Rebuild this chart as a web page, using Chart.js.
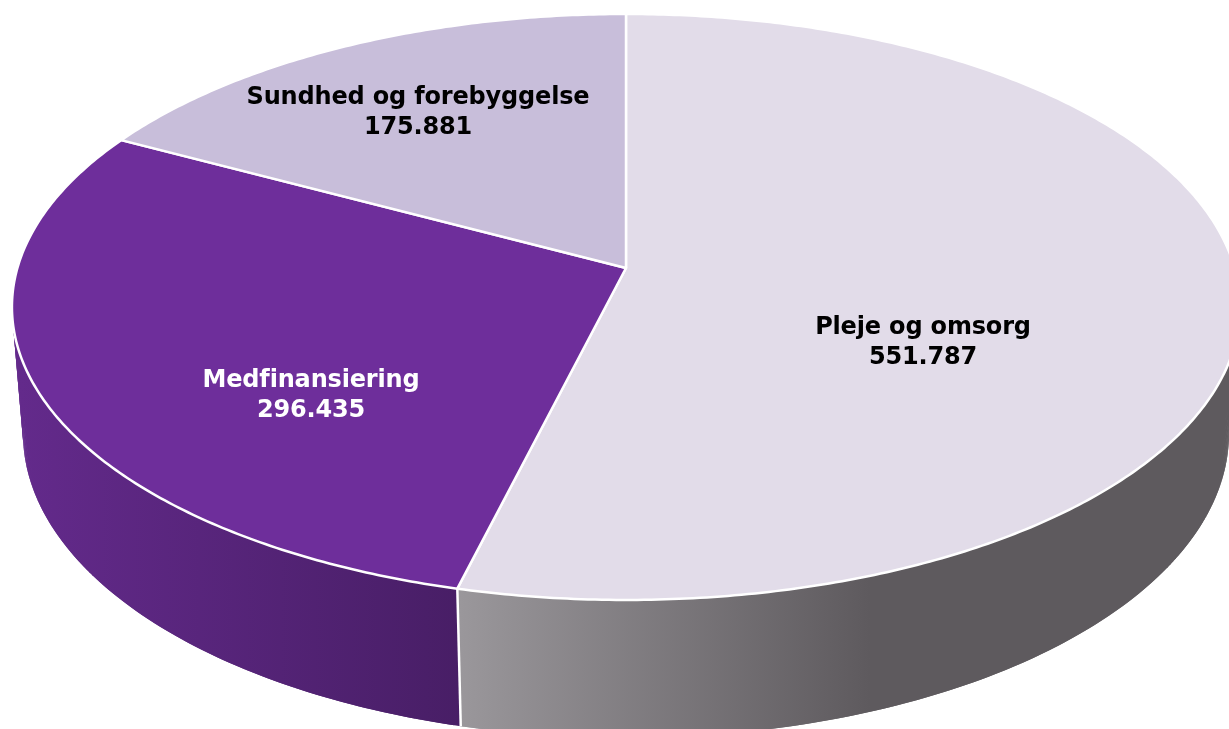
<!DOCTYPE html>
<html>
<head>
<meta charset="utf-8">
<style>
  html, body { margin: 0; padding: 0; background: #fff; }
  #wrap { width: 1229px; height: 729px; position: relative; overflow: hidden; }
</style>
<script src="https://cdn.jsdelivr.net/npm/chart.js@4/dist/chart.umd.min.js"></script>
</head>
<body>
<div id="wrap"><canvas id="pie"></canvas></div>
<script>
const categories = ["Pleje og omsorg", "Medfinansiering", "Sundhed og forebyggelse"];
const values = [551787, 296435, 175881];
const topColors = ["#E2DCE9", "#6E2E9B", "#C8BEDA"];
const labelColors = ["#000000", "#FFFFFF", "#000000"];

// perspective of the tilted disc, fitted to the picture
const view = { cx: 626, cy: 268, a: 608.6, b: 287.8, q: 0.133, depth: 128, shrink: 0.018 };

// screen position of unit circle point (angle, radius) at height h (0 top, 1 bottom)
function project(angle, r, h) {
    const u = Math.cos(angle) * r;
    const v = Math.sin(angle) * r;
    const w = 1 - view.q * v + view.shrink * h;
    return {
        x: view.cx + (view.a * u) / w,
        y: view.cy + (view.b * v + view.depth * h) / w,
    };
}

function rimPath(ctx, from, to, h, first) {
    const steps = Math.max(2, Math.ceil(Math.abs(to - from) / 0.01));
    for (let i = 0; i <= steps; i++) {
        const p = project(from + ((to - from) * i) / steps, 1, h);
        if (i === 0 && first) ctx.moveTo(p.x, p.y);
        else ctx.lineTo(p.x, p.y);
    }
}

function wallGradient(ctx, index) {
    if (index === 0) {
        const g = ctx.createLinearGradient(460, 0, 870, 0);
        g.addColorStop(0, "#9A979B");
        g.addColorStop(1, "#5E5A5E");
        return g;
    }
    const g = ctx.createLinearGradient(20, 0, 460, 0);
    g.addColorStop(0, "#632A8B");
    g.addColorStop(1, "#481E66");
    return g;
}

// wall is filled as small overlapping quads so the side silhouette gets covered too
function drawWall(ctx, arc, index) {
    const step = 0.01;
    ctx.fillStyle = wallGradient(ctx, index);
    for (let a = arc.startAngle; a < arc.endAngle; a += step) {
        const b = Math.min(a + step * 2, arc.endAngle);
        const p1 = project(a, 1, 0);
        const p2 = project(b, 1, 0);
        const p3 = project(b, 1, 1);
        const p4 = project(a, 1, 1);
        ctx.beginPath();
        ctx.moveTo(p1.x, p1.y);
        ctx.lineTo(p2.x, p2.y);
        ctx.lineTo(p3.x, p3.y);
        ctx.lineTo(p4.x, p4.y);
        ctx.closePath();
        ctx.fill();
    }
}

// pie is drawn from the arcs chart.js computed, only projected into 3D
const pie3d = {
    id: "pie3d",
    beforeDatasetDraw(chart, args) {
        const ctx = chart.ctx;
        const arcs = chart.getDatasetMeta(args.index).data;
        ctx.save();

        // side walls, only the front ones show
        drawWall(ctx, arcs[1], 1);
        drawWall(ctx, arcs[0], 0);

        // seam between the two walls
        const seamTop = project(arcs[0].endAngle, 1, 0);
        const seamBottom = project(arcs[0].endAngle, 1, 1);
        ctx.beginPath();
        ctx.moveTo(seamTop.x, seamTop.y);
        ctx.lineTo(seamBottom.x, seamBottom.y);
        ctx.strokeStyle = "#FFFFFF";
        ctx.lineWidth = 2.5;
        ctx.stroke();

        // top faces
        arcs.forEach((arc, i) => {
            const apex = project(0, 0, 0);
            ctx.beginPath();
            ctx.moveTo(apex.x, apex.y);
            rimPath(ctx, arc.startAngle, arc.endAngle, 0, false);
            ctx.closePath();
            ctx.fillStyle = topColors[i];
            ctx.fill();
            ctx.strokeStyle = "#FFFFFF";
            ctx.lineWidth = 2.5;
            ctx.lineJoin = "round";
            ctx.stroke();
        });

        ctx.restore();
        return false;
    },
    afterDatasetsDraw(chart, args, opts) {
        const ctx = chart.ctx;
        ctx.save();
        ctx.font = opts.font;
        ctx.letterSpacing = opts.letterSpacing;
        ctx.textAlign = "center";
        ctx.textBaseline = "middle";
        categories.forEach((name, i) => {
            const pos = opts.positions[i];
            ctx.fillStyle = labelColors[i];
            ctx.fillText(name, pos.x, pos.y);
            ctx.fillText(String(values[i]).replace(/\B(?=(\d{3})+$)/g, "."), pos.x, pos.y + opts.lineGap);
        });
        ctx.restore();
    },
};

new Chart(document.getElementById("pie"), {
    type: "pie",
    data: {
        labels: categories,
        datasets: [{ data: values, backgroundColor: topColors, borderColor: "#FFFFFF", borderWidth: 2 }],
    },
    options: {
        responsive: true,
        maintainAspectRatio: false,
        animation: false,
        events: [],
        plugins: {
            legend: { display: false },
            tooltip: { enabled: false },
            pie3d: {
                font: "bold 24px 'DejaVu Sans'",
                letterSpacing: "-0.17px",
                lineGap: 30,
                positions: [
                    { x: 923, y: 328 },
                    { x: 311, y: 381 },
                    { x: 418, y: 98 },
                ],
            },
        },
    },
    plugins: [pie3d],
});
</script>
</body>
</html>
